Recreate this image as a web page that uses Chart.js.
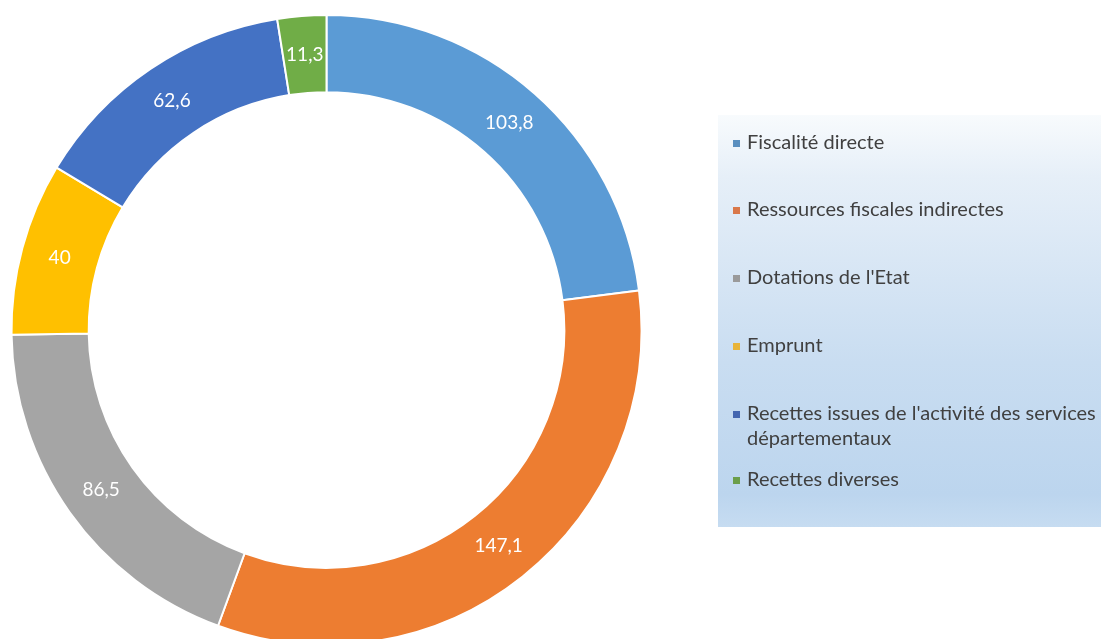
<!DOCTYPE html>
<html>
<head>
<meta charset="utf-8">
<script src="https://cdn.jsdelivr.net/npm/chart.js@4"></script>
<style>
html,body{margin:0;padding:0;background:#fff;overflow:hidden;width:1101px;height:639px;}
canvas{display:block;}
</style>
</head>
<body>
<canvas id="c" width="1101" height="660"></canvas>
<script>
const categories = [
  "Fiscalité directe",
  "Ressources fiscales indirectes",
  "Dotations de l'Etat",
  "Emprunt",
  ["Recettes issues de l'activité des services", "départementaux"],
  "Recettes diverses"
];
const values = [103.8, 147.1, 86.5, 40, 62.6, 11.3];
const valueLabels = ["103,8", "147,1", "86,5", "40", "62,6", "11,3"];
const colors = ["#5B9BD5", "#ED7D31", "#A5A5A5", "#FFC000", "#4472C4", "#70AD47"];
const markerColors = ["#5a8fbf", "#d9784a", "#9a9a9a", "#e8b43a", "#4466b0", "#6b9e4a"];

const FONT = "Lato, 'Open Sans', sans-serif";

const valueLabelPlugin = {
  id: 'valueLabels',
  afterDatasetsDraw(chart) {
    const ctx = chart.ctx;
    const meta = chart.getDatasetMeta(0);
    ctx.save();
    ctx.fillStyle = '#ffffff';
    ctx.font = '19px ' + FONT;
    ctx.textAlign = 'center';
    ctx.textBaseline = 'middle';
    meta.data.forEach((arc, i) => {
      const p = arc.tooltipPosition();
      ctx.fillText(valueLabels[i], p.x, p.y);
    });
    ctx.restore();
  }
};

const legendBoxPlugin = {
  id: 'legendBox',
  afterDraw(chart) {
    const ctx = chart.ctx;
    const bx = 718, by = 115, bw = 1101 - 718, bh = 412;
    ctx.save();
    const g = ctx.createLinearGradient(0, by, 0, by + bh);
    g.addColorStop(0, '#f8fbfd');
    g.addColorStop(0.15, '#e6eff8');
    g.addColorStop(0.6, '#c9ddf1');
    g.addColorStop(0.92, '#bcd5ee');
    g.addColorStop(1, '#c6dcf1');
    ctx.fillStyle = g;
    ctx.fillRect(bx, by, bw, bh);
    ctx.font = '20px ' + FONT;
    ctx.textBaseline = 'middle';
    ctx.textAlign = 'left';
    const ys = [143, 210, 278, 346, 414, 480];
    chart.data.labels.forEach((lab, i) => {
      const y = ys[i];
      ctx.fillStyle = markerColors[i];
      ctx.fillRect(733, y - 3, 7, 7);
      ctx.fillStyle = '#404040';
      const lines = Array.isArray(lab) ? lab : [lab];
      lines.forEach((ln, k) => ctx.fillText(ln, 747, y + k * 25));
    });
    ctx.restore();
  }
};

new Chart(document.getElementById('c'), {
  type: 'doughnut',
  data: {
    labels: categories,
    datasets: [{
      data: values,
      backgroundColor: colors,
      borderColor: '#ffffff',
      borderWidth: 2
    }]
  },
  options: {
    responsive: false,
    animation: false,
    cutout: '75.5%',
    layout: { padding: { left: 10, top: 14, right: 458, bottom: 14 } },
    plugins: { legend: { display: false }, tooltip: { enabled: false } }
  },
  plugins: [valueLabelPlugin, legendBoxPlugin]
});
</script>
</body>
</html>
